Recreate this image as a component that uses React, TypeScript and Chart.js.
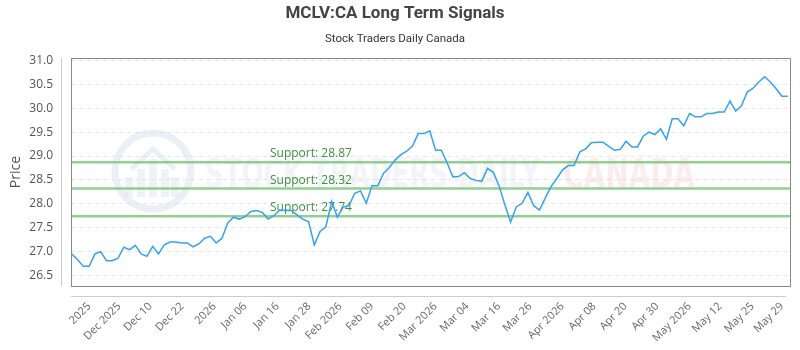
import React, { useEffect, useRef } from 'react';
import { Chart, registerables } from 'chart.js';

Chart.register(...registerables);

const titleText = 'MCLV:CA Long Term Signals';
const subtitleText = 'Stock Traders Daily Canada';
const yAxisTitle = 'Price';

const prices = [
  26.95, 26.83, 26.69, 26.69, 26.95, 27.0, 26.81, 26.81, 26.86, 27.09,
  27.04, 27.13, 26.95, 26.9, 27.11, 26.95, 27.14, 27.2, 27.2, 27.18,
  27.18, 27.1, 27.16, 27.28, 27.32, 27.18, 27.28, 27.6, 27.72, 27.68,
  27.73, 27.84, 27.86, 27.82, 27.68, 27.75, 27.87, 27.86, 27.86, 27.77,
  27.68, 27.63, 27.14, 27.42, 27.52, 28.05, 27.72, 27.93, 27.96, 28.22,
  28.27, 28.01, 28.38, 28.38, 28.64, 28.76, 28.92, 29.03, 29.1, 29.21,
  29.47, 29.47, 29.53, 29.12, 29.12, 28.86, 28.56, 28.57, 28.65, 28.53,
  28.49, 28.47, 28.74, 28.66, 28.38, 27.98, 27.62, 27.94, 28.01, 28.24,
  27.96, 27.87, 28.12, 28.36, 28.53, 28.71, 28.8, 28.8, 29.09, 29.15,
  29.28, 29.29, 29.29, 29.2, 29.12, 29.14, 29.31, 29.19, 29.19, 29.42,
  29.5, 29.45, 29.57, 29.35, 29.78, 29.78, 29.63, 29.89, 29.82, 29.82,
  29.89, 29.89, 29.92, 29.92, 30.15, 29.94, 30.05, 30.34, 30.42, 30.55,
  30.66, 30.55, 30.41, 30.25, 30.25,
];

const xTickLabels = [
  '2025', 'Dec 2025', 'Dec 10', 'Dec 22', '2026', 'Jan 06', 'Jan 16', 'Jan 28',
  'Feb 2026', 'Feb 09', 'Feb 20', 'Mar 2026', 'Mar 04', 'Mar 16', 'Mar 26',
  'Apr 2026', 'Apr 08', 'Apr 20', 'Apr 30', 'May 2026', 'May 12', 'May 25', 'May 29',
];
const xTickPositions = [
  3.0, 8.2, 13.6, 19.1, 24.7, 30.0, 35.6, 41.1, 46.5, 52.0, 57.6, 63.0,
  68.5, 74.0, 79.4, 85.0, 90.5, 95.9, 101.4, 107.0, 112.3, 117.9, 123.0,
];

const yTickValues = [26.5, 27.0, 27.5, 28.0, 28.5, 29.0, 29.5, 30.0, 30.5, 31.0];
const supportLevels = [28.87, 28.32, 27.74];

const lineColor = '#36a2eb';
const supportColor = 'rgba(120,195,120,0.8)';
const supportTextColor = '#3d8f3d';

const framePlugin = {
  id: 'frame',
  beforeDatasetsDraw(chart: any) {
    const { ctx, chartArea } = chart;
    const { left, top, right, bottom } = chartArea;
    ctx.save();
    const cx = left + 82;
    const cy = (top + bottom) / 2 - 1;
    ctx.strokeStyle = 'rgba(190,205,225,0.3)';
    ctx.lineWidth = 7;
    ctx.beginPath();
    ctx.arc(cx, cy, 38, 0, Math.PI * 2);
    ctx.stroke();
    ctx.fillStyle = 'rgba(190,205,225,0.25)';
    const bars = [[-24, 10], [-12, 18], [0, 28], [12, 18], [22, 10]];
    bars.forEach(([dx, h]) => {
      ctx.fillRect(cx + dx - 4, cy + 26 - h - 10, 8, h + 10);
    });
    ctx.beginPath();
    ctx.moveTo(cx - 22, cy - 2);
    ctx.lineTo(cx, cy - 22);
    ctx.lineTo(cx + 22, cy - 2);
    ctx.lineWidth = 5;
    ctx.stroke();
    ctx.font = 'bold 40px "DejaVu Sans"';
    ctx.textBaseline = 'middle';
    const t1 = 'STOCK TRADERS DAILY';
    const w1 = ctx.measureText(t1).width;
    ctx.save();
    ctx.translate(left + 134, cy + 7);
    ctx.scale(335 / w1, 1);
    ctx.fillStyle = 'rgba(205,212,225,0.25)';
    ctx.fillText(t1, 0, 0);
    ctx.restore();
    const t2 = 'CANADA';
    const w2 = ctx.measureText(t2).width;
    ctx.save();
    ctx.translate(left + 492, cy + 7);
    ctx.scale(132 / w2, 1);
    ctx.fillStyle = 'rgba(245,170,170,0.22)';
    ctx.fillText(t2, 0, 0);
    ctx.restore();

    const yScale = chart.scales.y;
    supportLevels.forEach((lvl) => {
      const y = yScale.getPixelForValue(lvl);
      ctx.strokeStyle = supportColor;
      ctx.lineWidth = 2.5;
      ctx.beginPath();
      ctx.moveTo(left, y);
      ctx.lineTo(right, y);
      ctx.stroke();
      ctx.fillStyle = supportTextColor;
      ctx.font = '12px "Open Sans"';
      ctx.textBaseline = 'alphabetic';
      ctx.textAlign = 'left';
      ctx.fillText('Support: ' + lvl.toFixed(2), left + 199, y - 5);
    });
    ctx.restore();
  },
  afterDatasetsDraw(chart: any) {
    const { ctx, chartArea } = chart;
    const { left, top, right, bottom } = chartArea;
    ctx.save();
    ctx.strokeStyle = '#8a8a8a';
    ctx.lineWidth = 1;
    ctx.strokeRect(Math.round(left) + 0.5, Math.round(top) + 0.5, Math.round(right - left), Math.round(bottom - top));
    ctx.strokeStyle = '#cccccc';
    ctx.beginPath();
    ctx.moveTo(Math.round(left) - 10 + 0.5, top);
    ctx.lineTo(Math.round(left) - 10 + 0.5, bottom);
    ctx.moveTo(left, Math.round(bottom) + 10 + 0.5);
    ctx.lineTo(right - 4, Math.round(bottom) + 10 + 0.5);
    ctx.stroke();
    ctx.restore();
  },
};

export default function App() {
  const ref = useRef<HTMLCanvasElement>(null);
  useEffect(() => {
    const chart = new Chart(ref.current as HTMLCanvasElement, {
      type: 'line',
      data: {
        datasets: [
          {
            data: prices.map((p, i) => ({ x: i, y: p })),
            borderColor: lineColor,
            borderWidth: 1.5,
            pointRadius: 0,
            tension: 0,
            fill: false,
          },
        ],
      },
      options: {
        animation: false,
        responsive: false,
        devicePixelRatio: 1,
        layout: { padding: { left: 0, right: 10, top: 0, bottom: 0 } },
        plugins: {
          legend: { display: false },
          tooltip: { enabled: false },
          title: {
            display: true,
            text: titleText,
            color: '#444',
            font: { family: 'Roboto', size: 17, weight: 'bold' },
            padding: { top: 4, bottom: 8 },
          },
          subtitle: {
            display: true,
            text: subtitleText,
            color: '#333',
            font: { family: 'Roboto', size: 11.5 },
            padding: { top: 0, bottom: 12 },
          },
        },
        scales: {
          x: {
            type: 'linear',
            min: -0.15,
            max: 124.4,
            grid: { display: false },
            border: { display: false },
            afterBuildTicks: (s: any) => {
              s.ticks = xTickPositions.map((v) => ({ value: v }));
            },
            afterFit: (s: any) => {
              s.height = 64;
              s.paddingRight = 0;
              s.paddingLeft = 0;
            },
            ticks: {
              autoSkip: false,
              maxRotation: 45,
              minRotation: 45,
              padding: 6,
              color: '#666',
              font: { family: 'Open Sans', size: 11 },
              callback: (_v: any, i: number) => xTickLabels[i],
            },
          },
          y: {
            min: 26.279,
            max: 31.048,
            grid: { color: '#e6e6e6', drawTicks: false },
            border: { display: false, dash: [4, 4] },
            afterBuildTicks: (s: any) => {
              s.ticks = yTickValues.map((v) => ({ value: v }));
            },
            afterFit: (s: any) => {
              s.width = 71;
            },
            ticks: {
              padding: 18,
              color: '#555',
              font: { family: 'Open Sans', size: 12 },
              callback: (v: any) => Number(v).toFixed(1),
            },
            title: {
              display: true,
              text: yAxisTitle,
              color: '#555',
              font: { family: 'Open Sans', size: 14 },
              padding: { top: 8, bottom: 0 },
            },
          },
        },
      },
      plugins: [framePlugin],
    } as any);
    return () => chart.destroy();
  }, []);
  return (
    <div style={{ position: 'absolute', left: 0, top: 0, width: 800, height: 350, background: '#fff' }}>
      <canvas ref={ref} width={800} height={350} />
    </div>
  );
}
